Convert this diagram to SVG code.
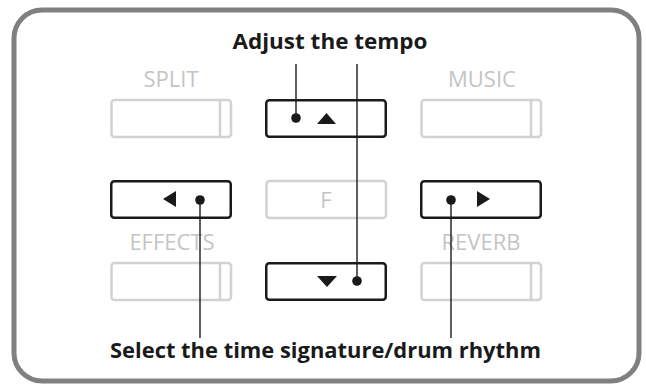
<svg xmlns="http://www.w3.org/2000/svg" width="646" height="385" viewBox="0 0 646 385">
<style>
.frame{fill:#fff;stroke:#808080;stroke-width:5}
.btn{fill:#fff;stroke:#1a1a1a;stroke-width:2.5}
.gbtn{fill:#fff;stroke:#d2d2d2;stroke-width:2.5}
.div{stroke:#d2d2d2;stroke-width:2.5}
.glabel{font-family:"Open Sans","Liberation Sans",sans-serif;font-size:22px;fill:#c4c4c4;text-anchor:middle}
.title{font-family:"Open Sans","Liberation Sans",sans-serif;font-size:22px;font-weight:bold;fill:#1a1a1a;text-anchor:middle}
.lead{stroke:#1a1a1a;stroke-width:1.4;fill:none}
.dot{fill:#1a1a1a}
.tri{fill:#1a1a1a}
</style>
<rect class="frame" x="14" y="10" width="625" height="371" rx="28"/>
<text class="title" x="330" y="49" textLength="195" lengthAdjust="spacingAndGlyphs">Adjust the tempo</text>
<text class="title" x="325.5" y="358" textLength="431" lengthAdjust="spacingAndGlyphs">Select the time signature/drum rhythm</text>
<g id="split">
<text class="glabel" x="171" y="87">SPLIT</text>
<rect class="gbtn" x="111.5" y="100" width="119.5" height="37" rx="3"/>
<line class="div" x1="220" y1="100" x2="220" y2="137"/>
</g>
<g id="music">
<text class="glabel" x="482" y="87">MUSIC</text>
<rect class="gbtn" x="421.5" y="100" width="119.5" height="37" rx="3"/>
<line class="div" x1="531" y1="100" x2="531" y2="137"/>
</g>
<g id="f">
<rect class="gbtn" x="266.5" y="181" width="119.5" height="37" rx="3"/>
<text class="glabel" x="326" y="208">F</text>
</g>
<g id="effects">
<text class="glabel" x="172" y="250">EFFECTS</text>
<rect class="gbtn" x="111.5" y="263" width="119.5" height="37" rx="3"/>
<line class="div" x1="220" y1="263" x2="220" y2="300"/>
</g>
<g id="reverb">
<text class="glabel" x="481" y="250">REVERB</text>
<rect class="gbtn" x="421.5" y="263" width="119.5" height="37" rx="3"/>
<line class="div" x1="531" y1="263" x2="531" y2="300"/>
</g>
<g id="up">
<rect class="btn" x="266.25" y="100.25" width="119.5" height="36.5" rx="3"/>
<polygon class="tri" points="317,124 336,124 326.5,113"/>
</g>
<g id="left">
<rect class="btn" x="111.25" y="181.25" width="119.5" height="36.5" rx="3"/>
<polygon class="tri" points="163,199 176,191 176,207"/>
</g>
<g id="right">
<rect class="btn" x="421.25" y="181.25" width="119.5" height="36.5" rx="3"/>
<polygon class="tri" points="477,191 477,207 490,199"/>
</g>
<g id="down">
<rect class="btn" x="266.25" y="263.25" width="119.5" height="36.5" rx="3"/>
<polygon class="tri" points="317,276 337,276 327,287"/>
</g>
<g id="connectors">
<line class="lead" x1="296" y1="64" x2="296" y2="118"/>
<line class="lead" x1="357" y1="64" x2="357" y2="281"/>
<line class="lead" x1="200" y1="200" x2="200" y2="338"/>
<line class="lead" x1="451" y1="200" x2="451" y2="338"/>
<circle class="dot" cx="296" cy="118" r="4.8"/>
<circle class="dot" cx="357" cy="281" r="4.8"/>
<circle class="dot" cx="200" cy="200" r="4.8"/>
<circle class="dot" cx="451" cy="200" r="4.8"/>
</g>
</svg>
